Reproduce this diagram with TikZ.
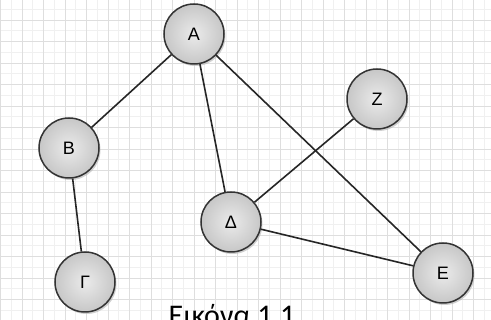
\documentclass[tikz,border=0pt]{standalone}
\usepackage{fontspec}
\setmainfont{Liberation Sans}
\newfontfamily\captionfont{Carlito}
\usetikzlibrary{shadows}

\begin{document}
\begin{tikzpicture}[
  x=1pt,
  y=-1pt,
  vertex/.style={
    circle,
    draw=black!80,
    line width=1.5pt,
    minimum size=60pt,
    inner sep=0pt,
    shading=radial,
    inner color=black!8,
    outer color=black!22,
    drop shadow={shadow xshift=1.5pt, shadow yshift=-2pt, fill=black!30, opacity=0.6},
    font=\fontsize{18}{18}\selectfont
  },
  edge/.style={line width=1.6pt, draw=black!85},
  fine/.style={draw=black!6, line width=0.6pt},
  coarse/.style={draw=black!13, line width=0.8pt}
]
\useasboundingbox (0,0) rectangle (491,320);
\fill[white] (0,0) rectangle (491,320);

% squared paper
\foreach \k in {0,...,45} {
  \draw[fine] ({0.5+10.75*\k},0) -- ++(0,320);
}
\foreach \k in {0,...,30} {
  \draw[fine] (0,{-1.5+10.75*\k}) -- ++(491,0);
}
\foreach \k in {0,...,22} {
  \draw[coarse] ({0.5+21.5*\k},0) -- ++(0,320);
}
\foreach \k in {0,...,15} {
  \draw[coarse] (0,{-1.5+21.5*\k}) -- ++(491,0);
}

\node[vertex] (alpha) at (194, 34) {Α};
\node[vertex] (beta) at (69, 148) {Β};
\node[vertex] (gamma) at (85, 282) {Γ};
\node[vertex] (delta) at (231, 222) {Δ};
\node[vertex] (zeta) at (377, 99) {Ζ};
\node[vertex] (epsilon) at (443, 273) {Ε};

\node[font=\captionfont\fontsize{30}{30}\selectfont, anchor=base] (caption) at (232, 326)
  {Εικόνα 1.1};

\draw[edge] (alpha) -- (beta);
\draw[edge] (alpha) -- (delta);
\draw[edge] (alpha) -- (epsilon);
\draw[edge] (beta) -- (gamma);
\draw[edge] (zeta) -- (delta);
\draw[edge] (delta) -- (epsilon);
\end{tikzpicture}
\end{document}
